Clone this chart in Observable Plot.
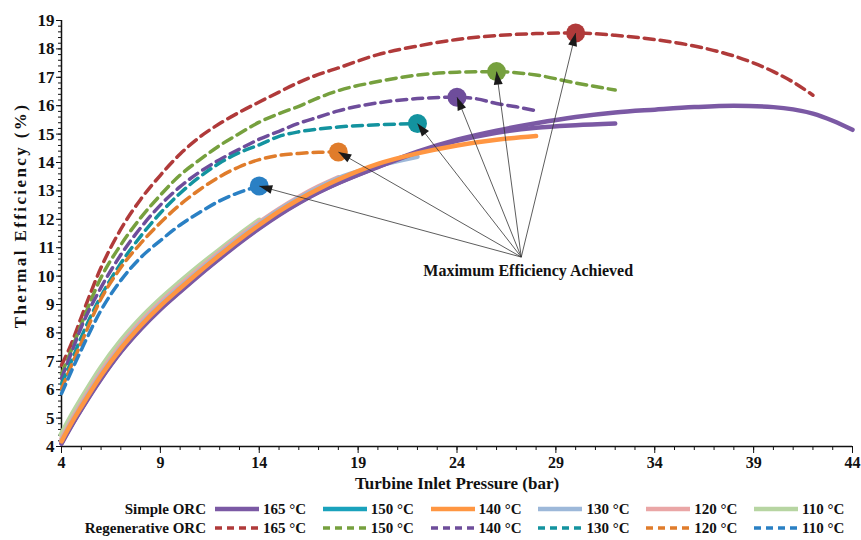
<!DOCTYPE html>
<html><head><meta charset="utf-8">
<script src="https://cdn.jsdelivr.net/npm/d3@7"></script>
<script src="https://cdn.jsdelivr.net/npm/@observablehq/plot@0.6"></script>
<style>
body{margin:0;background:#fff;}
#wrap{width:861px;}
.lg{position:relative;width:861px;height:45px;font-family:"Liberation Serif","Times New Roman","DejaVu Serif",serif;font-weight:bold;font-size:15px;color:#111;}
.lg .t{position:absolute;white-space:nowrap;line-height:18px;}
.lg svg{position:absolute;}
</style></head><body><div id="wrap"></div><script>
// ---------- data ----------
const temps = ["165 °C","150 °C","140 °C","130 °C","120 °C","110 °C"];

// Simple ORC (solid)
const pS165 = [4,4.5,5,6,7,8,9,10,11,12,13,14,15,16,17,18,20,22,24,26,28,30,32,34,36,38,40,41,42,43,44];
const eS165 = [4.10,4.72,5.30,6.38,7.33,8.13,8.83,9.45,10.05,10.62,11.17,11.68,12.15,12.57,12.95,13.28,13.85,14.38,14.80,15.12,15.38,15.60,15.76,15.86,15.95,16.00,15.95,15.87,15.72,15.47,15.15];
const pS150 = [4,4.5,5,6,7,8,9,10,11,12,13,14,15,16,17,18,20,22,24,26,28,30,32];
const eS150 = [4.12,4.74,5.32,6.40,7.35,8.15,8.85,9.47,10.07,10.64,11.19,11.70,12.17,12.59,12.96,13.28,13.84,14.36,14.76,15.05,15.22,15.31,15.37];
const pS140 = [4,4.5,5,6,7,8,9,10,11,12,13,14,15,16,17,18,20,22,24,26,28];
const eS140 = [4.18,4.82,5.40,6.50,7.45,8.25,8.95,9.57,10.17,10.74,11.29,11.80,12.28,12.70,13.07,13.40,13.95,14.32,14.60,14.80,14.93];
const pS130 = [4,4.5,5,6,7,8,9,10,11,12,13,14,15,16,17,18,20,22];
const eS130 = [4.22,4.86,5.45,6.55,7.50,8.30,9.00,9.62,10.22,10.79,11.34,11.85,12.33,12.75,13.12,13.45,13.88,14.20];
const pS120 = [4,4.5,5,6,7,8,9,10,11,12,13,14,15,16,17,18];
const eS120 = [4.28,4.93,5.52,6.63,7.58,8.38,9.07,9.69,10.28,10.85,11.40,11.90,12.37,12.79,13.16,13.48];
const pS110 = [4,4.5,5,6,7,8,9,10,11,12,13,14];
const eS110 = [4.42,5.06,5.65,6.76,7.70,8.49,9.17,9.78,10.36,10.91,11.44,11.95];

// Regenerative ORC (dashed)
const pR165 = [4,4.5,5,6,7,8,9,10,11,12,13,14,15,16,17,18,20,22,24,26,28,30,32,34,36,38,40,41,42];
const eR165 = [6.86,7.62,8.55,10.30,11.65,12.70,13.55,14.30,14.90,15.37,15.77,16.13,16.48,16.82,17.10,17.33,17.80,18.10,18.33,18.47,18.54,18.56,18.48,18.33,18.10,17.75,17.20,16.83,16.37];
const pR150 = [4,4.5,5,6,7,8,9,10,11,12,13,14,15,16,17,18,20,22,24,26,28,30,32];
const eR150 = [6.55,7.40,8.30,9.95,11.10,12.05,12.85,13.56,14.10,14.60,15.02,15.42,15.72,15.98,16.28,16.53,16.85,17.08,17.18,17.20,17.08,16.80,16.55];
const pR140 = [4,4.5,5,6,7,8,9,10,11,12,13,14,15,16,17,18,20,22,24,25,26,27,28];
const eR140 = [6.40,7.30,8.20,9.60,10.75,11.70,12.50,13.15,13.67,14.10,14.47,14.82,15.10,15.38,15.60,15.82,16.10,16.25,16.30,16.24,16.08,15.96,15.82];
const pR130 = [4,4.5,5,6,7,8,9,10,11,12,13,14,15,16,17,18,20,22];
const eR130 = [6.20,7.00,7.85,9.30,10.45,11.40,12.22,12.92,13.50,13.98,14.35,14.62,14.92,15.08,15.18,15.25,15.33,15.37];
const pR120 = [4,4.5,5,6,7,8,9,10,11,12,13,14,15,16,17,18];
const eR120 = [6.03,6.85,7.65,9.20,10.30,11.15,11.88,12.52,13.05,13.50,13.85,14.10,14.25,14.32,14.36,14.37];
const pR110 = [4,4.5,5,6,7,8,9,10,11,12,13,14];
const eR110 = [5.86,6.65,7.40,8.80,9.85,10.65,11.25,11.80,12.25,12.65,12.95,13.17];

// Maximum efficiency points of the regenerative cycles
const maxP = [14, 18, 22, 24, 26, 30];
const maxE = [13.17, 14.37, 15.37, 16.30, 17.20, 18.56];

const annotP = 27.25, annotE = 10.67;      // arrows origin
const annotTextP = 27.6, annotTextE = 10.2; // label position
const annotText = "Maximum Efficiency Achieved";

const xMajor = [4,9,14,19,24,29,34,39,44];
const xMinor = d3.range(4, 45, 1);
const yMajor = d3.range(4, 20, 1);
const yMinor = d3.range(4, 19.01, 0.2);

const simpleColors = ["#7B59A4","#1AA2BC","#FF9642","#9DB8D9","#EAA6A6","#B7D5A2"];
// in the picture the 150 °C simple curve is drawn purple
const simpleLineColors = ["#7B59A4","#7B59A4","#FF9642","#9DB8D9","#EAA6A6","#B7D5A2"];
const regenColors = ["#B03A3A","#76A03E","#6E4D9B","#13939F","#E07C2B","#2A80C4"];
const maxColors = ["#2A80C4","#E07C2B","#13939F","#6E4D9B","#76A03E","#B03A3A"];

// ---------- build ----------
const zipPE = (p, e) => p.map((v, i) => ({p: v, e: e[i]}));
const simple = [zipPE(pS165,eS165), zipPE(pS150,eS150), zipPE(pS140,eS140), zipPE(pS130,eS130), zipPE(pS120,eS120), zipPE(pS110,eS110)];
const regen = [zipPE(pR165,eR165), zipPE(pR150,eR150), zipPE(pR140,eR140), zipPE(pR130,eR130), zipPE(pR120,eR120), zipPE(pR110,eR110)];
const maxPts = maxP.map((p, i) => ({p, e: maxE[i], c: maxColors[i]}));

const font = "'Liberation Serif', 'Times New Roman', 'DejaVu Serif', serif";
const simpleOrder = [5,4,3,0,1,2];
const marks = [
  Plot.axisX({ticks: xMinor, tickSize: 4, text: null, label: null}),
  Plot.axisX({ticks: xMajor, tickSize: 7, tickPadding: 3, label: null, fontSize: 16, fontWeight: "bold", tickFormat: d => String(d)}),
  Plot.axisY({ticks: yMinor, tickSize: 3, text: null, label: null}),
  Plot.axisY({ticks: yMajor, tickSize: 5, tickPadding: 2, label: null, fontSize: 17, fontWeight: "bold", tickFormat: d => String(d)}),
  Plot.ruleX([4], {stroke: "#111", strokeWidth: 1.5}),
  Plot.ruleY([4], {stroke: "#111", strokeWidth: 1.5}),
];
simpleOrder.forEach(i => marks.push(Plot.line(simple[i], {x: "p", y: "e", stroke: simpleLineColors[i], strokeWidth: i === 5 ? 6 : 4.5, curve: "monotone-x"})));
regen.forEach((d, i) => marks.push(Plot.line(d, {x: "p", y: "e", stroke: regenColors[i], strokeWidth: 3.5, strokeDasharray: "10,6", curve: "monotone-x"})));
marks.push(
  Plot.dot(maxPts, {x: "p", y: "e", fill: "c", r: 9.5}),
  Plot.link(maxPts, {x1: () => annotP, y1: () => annotE, x2: "p", y2: "e", stroke: "#333", strokeWidth: 0.8, markerEnd: "arrow"}),
  Plot.text([annotText], {x: () => annotTextP, y: () => annotTextE, text: d => d, fontSize: 16, fontWeight: "bold", fill: "#111"}),
  Plot.text(["Turbine Inlet Pressure (bar)"], {frameAnchor: "bottom", dy: 37, lineAnchor: "middle", textAnchor: "middle", text: d => d, fontSize: 17, fontWeight: "bold", fill: "#111"}),
  Plot.text(["Thermal Efficiency (%)"], {frameAnchor: "left", dx: -41, dy: -18, rotate: -90, textAnchor: "middle", lineAnchor: "middle", text: d => d, fontSize: 17, fontWeight: "bold", fill: "#111"})
);

const svg = Plot.plot({
  width: 861, height: 495,
  marginLeft: 61, marginRight: 9, marginTop: 20, marginBottom: 49,
  x: {domain: [4, 44]},
  y: {domain: [4, 19]},
  color: {type: "identity"},
  style: {fontFamily: font, fontSize: "16px", fontWeight: "bold", color: "#111", background: "#fff"},
  marks
});

svg.querySelectorAll("marker").forEach(m => {
  m.setAttribute("viewBox", "-14 -6 16 12");
  m.setAttribute("markerUnits", "userSpaceOnUse");
  m.setAttribute("markerWidth", "16");
  m.setAttribute("markerHeight", "12");
  m.setAttribute("fill", "#1a1a1a");
  m.setAttribute("stroke", "none");
  const path = m.querySelector("path");
  if (path) path.setAttribute("d", "M-13,-4.5L0,0L-13,4.5Z");
});
svg.querySelectorAll("text").forEach(t => {
  if (t.textContent === "Thermal Efficiency (%)") t.setAttribute("letter-spacing", "2.4");
});

const wrap = document.getElementById("wrap");
wrap.appendChild(svg);

// ---------- legend ----------
const lg = document.createElement("div");
lg.className = "lg";
const rows = [
  {name: "Simple ORC", colors: simpleColors, dash: null, top: 5},
  {name: "Regenerative ORC", colors: regenColors, dash: "7,5", top: 24}
];
rows.forEach(r => {
  const n = document.createElement("div");
  n.className = "t";
  n.textContent = r.name;
  n.style.right = (861 - 206) + "px";
  n.style.top = r.top + "px";
  lg.appendChild(n);
  r.colors.forEach((c, i) => {
    const x0 = 214 + i * 107.8;
    const s = document.createElementNS("http://www.w3.org/2000/svg", "svg");
    s.setAttribute("width", "46"); s.setAttribute("height", "10");
    s.style.left = x0 + "px"; s.style.top = (r.top + 4) + "px";
    const l = document.createElementNS("http://www.w3.org/2000/svg", "line");
    l.setAttribute("x1", "1"); l.setAttribute("x2", "45"); l.setAttribute("y1", "5"); l.setAttribute("y2", "5");
    l.setAttribute("stroke", c); l.setAttribute("stroke-width", r.dash ? "3.5" : "4.5");
    if (r.dash) l.setAttribute("stroke-dasharray", r.dash);
    s.appendChild(l);
    lg.appendChild(s);
    const t = document.createElement("div");
    t.className = "t";
    t.textContent = temps[i];
    t.style.left = (x0 + 49) + "px";
    t.style.top = r.top + "px";
    lg.appendChild(t);
  });
});
wrap.appendChild(lg);
</script></body></html>
